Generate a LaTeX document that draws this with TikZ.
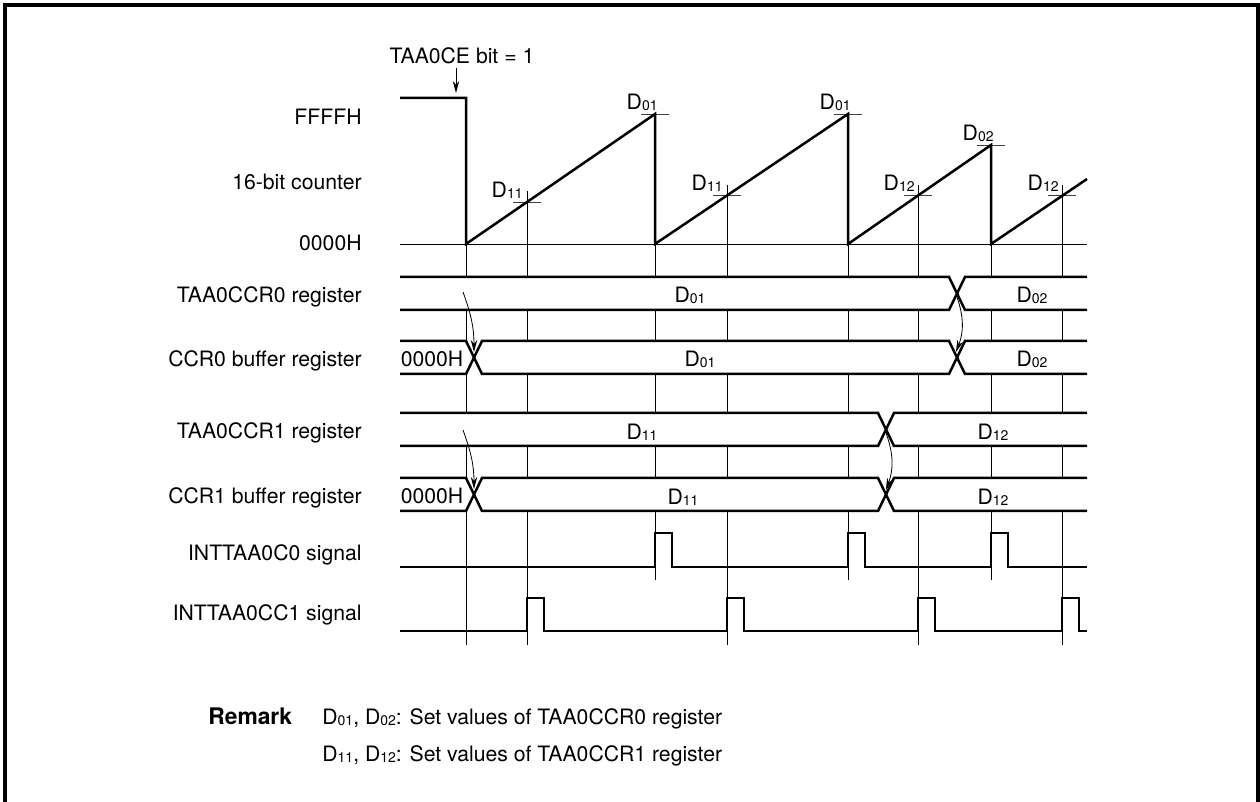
\documentclass[tikz,border=0pt]{standalone}
\usepackage{fontspec}
\setmainfont{TeX Gyre Heros}
\usetikzlibrary{arrows.meta}
\newcommand{\dval}[1]{D\raisebox{-0.6pt}{\fontsize{7}{8}\selectfont#1}}

\begin{document}
\begin{tikzpicture}[x=0.5pt,y=-0.5pt,>={Stealth[length=6pt,width=3.2pt]},
  sig/.style={line width=1.25pt},
  gridln/.style={line width=0.45pt},
  tickln/.style={line width=0.45pt,black!75},
  xfer/.style={->,line width=0.4pt},
  val/.style={inner sep=0pt,text height=7.6pt,text depth=0pt,font=\fontsize{10.6}{12.7}\selectfont},
  lbl/.style={val,anchor=east}]
\useasboundingbox (0,0) rectangle (1260,802);
\draw[line width=1.6pt] (5,802) -- (5,5) -- (1258,5) -- (1258,802);
\foreach \x/\ya/\yb in {466/244/645,527/191/645,655/114/580,727/185/645,848/114/580,918/185/645,991/145/580,1062/185/645}
  \draw[gridln] (\x,\ya) -- (\x,\yb);
\foreach \x/\y in {655/114,848/114,991/145,527/202,727/195,918/195,1062/195}
  \draw[tickln] (\x-14,\y) -- (\x+14,\y);
\draw[gridln] (400,244) -- (1087,244);
\draw[sig] (400,98) -- (466,98) -- (466,244) -- (655,114) -- (655,244) -- (848,114) -- (848,244) -- (991,145) -- (991,244) -- (1087,179);
\node[val,anchor=south east] (d01a) at (658,110) {\dval{01}};
\node[val,anchor=south east] (d01b) at (851,110) {\dval{01}};
\node[val,anchor=south east] (d02) at (994,141) {\dval{02}};
\node[val,anchor=south east] (d11a) at (523,198) {\dval{11}};
\node[val,anchor=south east] (d11b) at (723,191) {\dval{11}};
\node[val,anchor=south east] (d12a) at (915,191) {\dval{12}};
\node[val,anchor=south east] (d12b) at (1059,191) {\dval{12}};
\node[val] (ce) at (462,56) {TAA0CE bit = 1};
\coordinate (cetip) at (456,93);
\draw[xfer] (ce.south -| cetip) ++(0,4) -- (cetip);
\fill[white] (400,277) rectangle (1087,310);
\draw[sig] (400,277) -- (949,277) -- (965,310) -- (1087,310) (400,310) -- (949,310) -- (965,277) -- (1087,277);
\fill[white] (400,341) rectangle (1087,374);
\draw[sig] (400,341) -- (466,341) -- (482,374) -- (949,374) -- (965,341) -- (1087,341) (400,374) -- (466,374) -- (482,341) -- (949,341) -- (965,374) -- (1087,374);
\fill[white] (400,413) rectangle (1087,446);
\draw[sig] (400,413) -- (878,413) -- (894,446) -- (1087,446) (400,446) -- (878,446) -- (894,413) -- (1087,413);
\fill[white] (400,478) rectangle (1087,511);
\draw[sig] (400,478) -- (466,478) -- (482,511) -- (878,511) -- (894,478) -- (1087,478) (400,511) -- (466,511) -- (482,478) -- (878,478) -- (894,511) -- (1087,511);
\node[val] (r0a) at (690,295) {\dval{01}};
\node[val] (r0b) at (1032,295) {\dval{02}};
\node[val] (b0z) at (432,359) {0000H};
\node[val] (b0a) at (700,359) {\dval{01}};
\node[val] (b0b) at (1032,359) {\dval{02}};
\node[val] (r1a) at (642,432) {\dval{11}};
\node[val] (r1b) at (993,432) {\dval{12}};
\node[val] (b1z) at (432,496) {0000H};
\node[val] (b1a) at (683,497) {\dval{11}};
\node[val] (b1b) at (993,497) {\dval{12}};
\coordinate (r0s) at (463,292);
\coordinate (b0x) at (474,352);
\coordinate (r0x) at (957,297);
\coordinate (b0y) at (956,352);
\coordinate (r1s) at (463,430);
\coordinate (b1x) at (474,489);
\coordinate (r1x) at (886,433);
\coordinate (b1y) at (886,490);
\draw[xfer] (r0s) to[out=-70,in=90] (b0x);
\draw[xfer] (r0x) to[bend left=20] (b0y);
\draw[xfer] (r1s) to[out=-70,in=90] (b1x);
\draw[xfer] (r1x) to[bend left=20] (b1y);
\draw[sig] (400,567) foreach \p in {655,848,991} {-- (\p,567) -- (\p,533) -- (\p+17,533) -- (\p+17,567)} -- (1087,567);
\draw[sig] (400,631) foreach \p in {527,727,918,1062} {-- (\p,631) -- (\p,598) -- (\p+17,598) -- (\p+17,631)} -- (1087,631);
\node[lbl] (ffff) at (362,117) {FFFFH};
\node[lbl] (cnt) at (362,182) {16-bit counter};
\node[lbl] (zero) at (362,243) {0000H};
\node[lbl] (ccr0) at (362,295) {TAA0CCR0 register};
\node[lbl] (buf0) at (362,359) {CCR0 buffer register};
\node[lbl] (ccr1) at (362,431) {TAA0CCR1 register};
\node[lbl] (buf1) at (362,496) {CCR1 buffer register};
\node[lbl] (int0) at (362,553) {INTTAA0C0 signal};
\node[lbl] (int1) at (362,613) {INTTAA0CC1 signal};
\node[val,anchor=west,font=\fontsize{11.4}{13}\selectfont] (rmk) at (208,717) {\bfseries Remark};
\node[val,anchor=west] (rm1) at (322,717) {\dval{01}, \dval{02}: Set values of TAA0CCR0 register};
\node[val,anchor=west] (rm2) at (322,754) {\dval{11}, \dval{12}: Set values of TAA0CCR1 register};
\end{tikzpicture}
\end{document}
